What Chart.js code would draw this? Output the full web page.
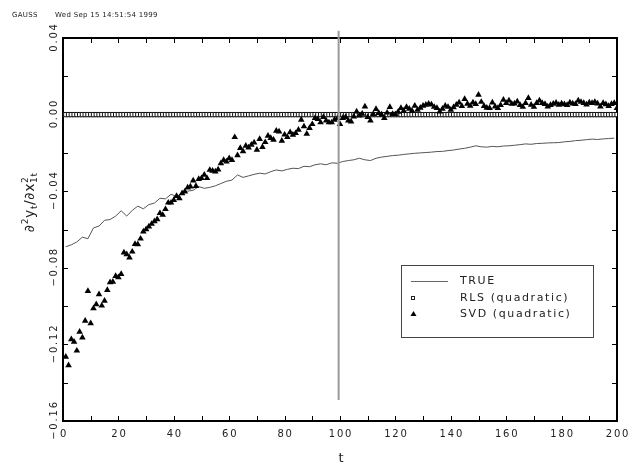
<!DOCTYPE html>
<html>
<head>
<meta charset="utf-8">
<script src="https://cdn.jsdelivr.net/npm/chart.js@4.4.1/dist/chart.umd.min.js"></script>
<style>
  html, body { margin: 0; padding: 0; background: #fff; }
  canvas { display: block; }
</style>
</head>
<body>
<canvas id="derivChart" width="634" height="468"></canvas>
<script>
// ==== Series ====
// TRUE second derivative, sampled at t = 1, 3, 5, ... 199
const trueVals = [
  -0.0690, -0.0680, -0.0665, -0.0640, -0.0648, -0.0592, -0.0582, -0.0552, -0.0548, -0.0530,
  -0.0502, -0.0530, -0.0500, -0.0478, -0.0492, -0.0470, -0.0462, -0.0437, -0.0440, -0.0416,
  -0.0428, -0.0410, -0.0400, -0.0395, -0.0376, -0.0385, -0.0380, -0.0372, -0.0360, -0.0348,
  -0.0342, -0.0315, -0.0328, -0.0320, -0.0312, -0.0306, -0.0310, -0.0298, -0.0289, -0.0294,
  -0.0286, -0.0280, -0.0282, -0.0270, -0.0272, -0.0262, -0.0257, -0.0262, -0.0252, -0.0254,
  -0.0245, -0.0240, -0.0236, -0.0228, -0.0236, -0.0240, -0.0228, -0.0222, -0.0218, -0.0214,
  -0.0212, -0.0208, -0.0205, -0.0202, -0.0200, -0.0198, -0.0196, -0.0193, -0.0192, -0.0188,
  -0.0185, -0.0180, -0.0176, -0.0170, -0.0163, -0.0168, -0.0170, -0.0166, -0.0168, -0.0164,
  -0.0163, -0.0160, -0.0157, -0.0153, -0.0155, -0.0151, -0.0150, -0.0148, -0.0147, -0.0146,
  -0.0142, -0.0140, -0.0136, -0.0134, -0.0131, -0.0128, -0.0130, -0.0127, -0.0125, -0.0123
];

// RLS (quadratic) estimate, t = 1..200
const rlsVals = [
  0, 0, 0, 0, 0, 0, 0, 0, 0, 0, 0, 0, 0, 0, 0, 0, 0, 0, 0, 0,
  0, 0, 0, 0, 0, 0, 0, 0, 0, 0, 0, 0, 0, 0, 0, 0, 0, 0, 0, 0,
  0, 0, 0, 0, 0, 0, 0, 0, 0, 0, 0, 0, 0, 0, 0, 0, 0, 0, 0, 0,
  0, 0, 0, 0, 0, 0, 0, 0, 0, 0, 0, 0, 0, 0, 0, 0, 0, 0, 0, 0,
  0, 0, 0, 0, 0, 0, 0, 0, 0, 0, 0, 0, 0, 0, 0, 0, 0, 0, 0, 0,
  0, 0, 0, 0, 0, 0, 0, 0, 0, 0, 0, 0, 0, 0, 0, 0, 0, 0, 0, 0,
  0, 0, 0, 0, 0, 0, 0, 0, 0, 0, 0, 0, 0, 0, 0, 0, 0, 0, 0, 0,
  0, 0, 0, 0, 0, 0, 0, 0, 0, 0, 0, 0, 0, 0, 0, 0, 0, 0, 0, 0,
  0, 0, 0, 0, 0, 0, 0, 0, 0, 0, 0, 0, 0, 0, 0, 0, 0, 0, 0, 0,
  0, 0, 0, 0, 0, 0, 0, 0, 0, 0, 0, 0, 0, 0, 0, 0, 0, 0, 0, 0
];

// SVD (quadratic) estimate, t = 1..200
const svdVals = [
  -0.1265, -0.1309, -0.1173, -0.1187, -0.1233, -0.1134, -0.1164, -0.1077, -0.0922, -0.1090,
  -0.1012, -0.0991, -0.0939, -0.0998, -0.0972, -0.0916, -0.0876, -0.0873, -0.0843, -0.0850,
  -0.0833, -0.0721, -0.0730, -0.0747, -0.0716, -0.0676, -0.0677, -0.0648, -0.0611, -0.0599,
  -0.0585, -0.0571, -0.0557, -0.0547, -0.0515, -0.0524, -0.0494, -0.0460, -0.0460, -0.0446,
  -0.0425, -0.0437, -0.0411, -0.0402, -0.0381, -0.0376, -0.0345, -0.0373, -0.0337, -0.0332,
  -0.0315, -0.0332, -0.0289, -0.0294, -0.0298, -0.0287, -0.0254, -0.0237, -0.0245, -0.0228,
  -0.0237, -0.0118, -0.0213, -0.0175, -0.0192, -0.0163, -0.0172, -0.0158, -0.0146, -0.0184,
  -0.0128, -0.0170, -0.0144, -0.0111, -0.0123, -0.0132, -0.0085, -0.0089, -0.0137, -0.0105,
  -0.0118, -0.0093, -0.0106, -0.0097, -0.0080, -0.0027, -0.0062, -0.0100, -0.0070, -0.0050,
  -0.0018, -0.0024, -0.0041, -0.0013, -0.0031, -0.0041, -0.0041, -0.0027, -0.0020, -0.0050,
  -0.0018, -0.0013, -0.0031, -0.0036, -0.0010,  0.0016, -0.0005,  0.0004,  0.0042, -0.0013,
  -0.0031,  0.0003,  0.0029,  0.0008,  0.0000, -0.0018,  0.0010,  0.0039,  0.0003,  0.0002,
   0.0015,  0.0034,  0.0020,  0.0039,  0.0030,  0.0020,  0.0046,  0.0025,  0.0035,  0.0046,
   0.0051,  0.0056,  0.0052,  0.0040,  0.0034,  0.0016,  0.0030,  0.0046,  0.0040,  0.0025,
   0.0038,  0.0051,  0.0063,  0.0045,  0.0081,  0.0056,  0.0046,  0.0063,  0.0055,  0.0103,
   0.0066,  0.0045,  0.0035,  0.0034,  0.0063,  0.0042,  0.0034,  0.0050,  0.0077,  0.0060,
   0.0073,  0.0056,  0.0058,  0.0068,  0.0050,  0.0040,  0.0060,  0.0086,  0.0051,  0.0040,
   0.0060,  0.0073,  0.0060,  0.0055,  0.0042,  0.0050,  0.0056,  0.0062,  0.0051,  0.0058,
   0.0054,  0.0050,  0.0063,  0.0058,  0.0055,  0.0073,  0.0066,  0.0060,  0.0052,  0.0063,
   0.0060,  0.0066,  0.0058,  0.0042,  0.0060,  0.0054,  0.0045,  0.0055,  0.0060,  0.0034
];

// vertical marker at the sample split
const splitT = 99.5;
const splitSpan = [0.0438, -0.149];

// ==== Axes ====
const xLabelVals = [0, 20, 40, 60, 80, 100, 120, 140, 160, 180, 200];
const yLabelVals = [0.04, 0.00, -0.04, -0.08, -0.12, -0.16];
const legendLabels = ["TRUE", "RLS (quadratic)", "SVD (quadratic)"];

const FONT = '"DejaVu Sans", "Liberation Sans", sans-serif';
const MINUS = "\u2212";

const fmtY = v => (v < -1e-9 ? MINUS : "") + Math.abs(v).toFixed(2);
const isLabel = (list, v) => list.some(l => Math.abs(l - v) < 1e-6);

// ---- frame with inward ticks on all four sides ----
const framePlugin = {
  id: "frame",
  beforeDatasetsDraw(chart) {
    const { ctx, chartArea: a, scales: { x, y } } = chart;
    ctx.save();
    ctx.strokeStyle = "#000";
    ctx.lineWidth = 2;
    ctx.strokeRect(a.left, a.top, a.right - a.left, a.bottom - a.top);

    ctx.lineWidth = 1;
    ctx.beginPath();
    x.ticks.forEach(t => {
      const px = Math.round(x.getPixelForValue(t.value)) + 0.5;
      ctx.moveTo(px, a.bottom); ctx.lineTo(px, a.bottom - 5);
      ctx.moveTo(px, a.top); ctx.lineTo(px, a.top + 5);
    });
    y.ticks.forEach(t => {
      const py = Math.round(y.getPixelForValue(t.value)) + 0.5;
      ctx.moveTo(a.left, py); ctx.lineTo(a.left + 5, py);
      ctx.moveTo(a.right, py); ctx.lineTo(a.right - 5, py);
    });
    ctx.stroke();
    ctx.restore();
  },

  afterDraw(chart) {
    const { ctx, chartArea: a, scales: { x, y } } = chart;
    ctx.save();
    ctx.fillStyle = "#222";

    // x tick labels
    ctx.font = `10px ${FONT}`;
    ctx.letterSpacing = "1.8px";
    ctx.textAlign = "center";
    ctx.textBaseline = "alphabetic";
    x.ticks.forEach(t => {
      if (!isLabel(xLabelVals, t.value)) return;
      ctx.fillText(String(t.value), x.getPixelForValue(t.value) + 1, 437);
    });

    // y tick labels, rotated
    y.ticks.forEach(t => {
      if (!isLabel(yLabelVals, t.value)) return;
      ctx.save();
      ctx.translate(57, y.getPixelForValue(t.value));
      ctx.rotate(-Math.PI / 2);
      ctx.fillText(fmtY(t.value), 1, 0);
      ctx.restore();
    });

    // x title
    ctx.letterSpacing = "0px";
    ctx.font = `13px ${FONT}`;
    ctx.fillText("t", (a.left + a.right) / 2 + 1, 462);

    // y title: ∂²y_t / ∂x²_1t
    drawYTitle(ctx, 34, 205);

    // header stamp
    ctx.textAlign = "left";
    ctx.font = `7px ${FONT}`;
    ctx.letterSpacing = "0.3px";
    ctx.fillText("GAUSS", 12, 17);
    ctx.fillText("Wed Sep 15 14:51:54 1999", 55, 17);

    drawLegend(ctx, chart);
    ctx.restore();
  }
};

function drawYTitle(ctx, cx, cy) {
  const big = `14px ${FONT}`, small = `9px ${FONT}`;
  const pieces = [
    { s: "\u2202", f: big, dy: 0 },
    { s: "2", f: small, dy: -6 },
    { s: "y", f: big, dy: 0 },
    { s: "t", f: small, dy: 3 },
    { s: "/\u2202x", f: big, dy: 0 },
    { s: "2", f: small, dy: -6, hold: true },
    { s: "1t", f: small, dy: 3 }
  ];
  let total = 0;
  pieces.forEach(p => {
    ctx.font = p.f;
    if (!p.hold) total += ctx.measureText(p.s).width;
  });
  ctx.save();
  ctx.translate(cx, cy);
  ctx.rotate(-Math.PI / 2);
  ctx.textAlign = "left";
  ctx.letterSpacing = "0.6px";
  let px = -total / 2;
  pieces.forEach(p => {
    ctx.font = p.f;
    ctx.fillText(p.s, px, p.dy);
    if (!p.hold) px += ctx.measureText(p.s).width;
  });
  ctx.restore();
}

function drawLegend(ctx, chart) {
  const box = { l: 401, t: 265, r: 593, b: 337 };
  ctx.save();
  ctx.strokeStyle = "#444";
  ctx.lineWidth = 1;
  ctx.strokeRect(box.l + 0.5, box.t + 0.5, box.r - box.l, box.b - box.t);

  const rows = [281, 298, 314];
  // line sample
  ctx.strokeStyle = "#666";
  ctx.beginPath();
  ctx.moveTo(411, rows[0] + 0.5);
  ctx.lineTo(448, rows[0] + 0.5);
  ctx.stroke();
  // square sample
  ctx.strokeStyle = "#222";
  ctx.strokeRect(411.5, rows[1] - 1.5, 3, 3);
  // triangle sample
  ctx.fillStyle = "#000";
  ctx.beginPath();
  ctx.moveTo(413.5, rows[2] - 3);
  ctx.lineTo(416.5, rows[2] + 2);
  ctx.lineTo(410.5, rows[2] + 2);
  ctx.closePath();
  ctx.fill();

  ctx.fillStyle = "#222";
  ctx.font = `11px ${FONT}`;
  ctx.letterSpacing = "1.6px";
  ctx.textAlign = "left";
  ctx.textBaseline = "middle";
  legendLabels.forEach((txt, i) => ctx.fillText(txt, 460, rows[i]));
  ctx.restore();
}

// ==== Chart ====
new Chart(document.getElementById("derivChart"), {
  type: "scatter",
  data: {
    datasets: [
      {
        label: "split",
        data: [{ x: splitT, y: splitSpan[0] }, { x: splitT, y: splitSpan[1] }],
        showLine: true,
        borderColor: "#9a9a9a",
        borderWidth: 2,
        pointRadius: 0,
        clip: false,
        order: 0
      },
      {
        label: legendLabels[0],
        data: trueVals.map((v, i) => ({ x: 2 * i + 1, y: v })),
        showLine: true,
        borderColor: "#555",
        borderWidth: 1,
        pointRadius: 0,
        order: 3
      },
      {
        label: legendLabels[1],
        data: rlsVals.map((v, i) => ({ x: i + 1, y: v })),
        pointStyle: "rect",
        pointRadius: 3,
        borderColor: "#111",
        backgroundColor: "#fff",
        borderWidth: 1,
        order: 2
      },
      {
        label: legendLabels[2],
        data: svdVals.map((v, i) => ({ x: i + 1, y: v })),
        pointStyle: "triangle",
        pointRadius: 3.8,
        borderColor: "#000",
        backgroundColor: "#000",
        borderWidth: 0,
        order: 1
      }
    ]
  },
  options: {
    responsive: false,
    animation: false,
    events: [],
    layout: { padding: { left: 0, right: 17, top: 38, bottom: 0 } },
    plugins: {
      legend: { display: false },
      tooltip: { enabled: false }
    },
    scales: {
      x: {
        type: "linear",
        min: 0,
        max: 200,
        ticks: { stepSize: 10, display: false },
        grid: { display: false },
        border: { display: false },
        afterFit: s => { s.height = 47; }
      },
      y: {
        min: -0.16,
        max: 0.04,
        ticks: { stepSize: 0.02, display: false },
        grid: { display: false },
        border: { display: false },
        afterFit: s => { s.width = 63; }
      }
    }
  },
  plugins: [framePlugin]
});
</script>
</body>
</html>
